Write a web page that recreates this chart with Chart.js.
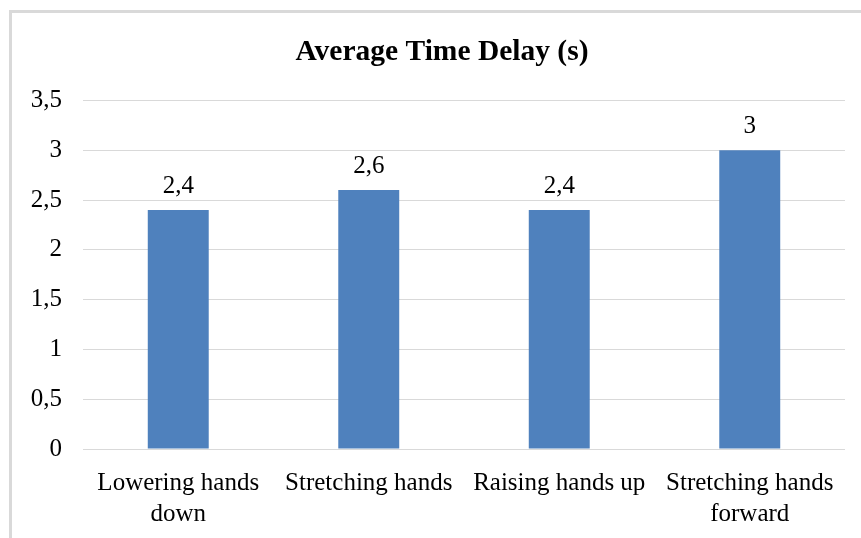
<!DOCTYPE html>
<html>
<head>
<meta charset="utf-8">
<script src="https://cdn.jsdelivr.net/npm/chart.js@4.4.1/dist/chart.umd.min.js"></script>
<style>
  html, body { margin: 0; padding: 0; background: #fff; }
  #wrap { position: relative; width: 861px; height: 538px; overflow: hidden; }
  #frame { position: absolute; left: 9px; top: 10px; width: 900px; height: 600px;
           border-top: 3px solid #d9d9d9; border-left: 3px solid #d9d9d9; box-sizing: border-box; }
  canvas { position: absolute; left: 0; top: 0; }
</style>
</head>
<body>
<div id="wrap">
  <div id="frame"></div>
  <canvas id="chart" width="861" height="538"></canvas>
</div>
<script>
const categories = [["Lowering hands", "down"], "Stretching hands", "Raising hands up", ["Stretching hands", "forward"]];
const delays = [2.4, 2.6, 2.4, 3];
const chartTitle = "Average Time Delay (s)";

const SERIF = "'Liberation Serif', 'Times New Roman', serif";
const commaNum = v => String(v).replace('.', ',');

// Writes each bar's value just above the bar
const valueLabels = {
  id: 'valueLabels',
  afterDatasetsDraw(chart) {
    const ctx = chart.ctx;
    const meta = chart.getDatasetMeta(0);
    ctx.save();
    ctx.font = "25px " + SERIF;
    ctx.fillStyle = "#000";
    ctx.textAlign = "center";
    ctx.textBaseline = "alphabetic";
    meta.data.forEach((bar, i) => {
      ctx.fillText(commaNum(chart.data.datasets[0].data[i]), bar.x, bar.y - 17);
    });
    ctx.restore();
  }
};

// Centres the title over the frame rather than over the whole canvas
const titleOffset = {
  id: 'titleOffset',
  afterLayout(chart) {
    const tb = chart.titleBlock;
    if (tb) {
      tb.left = 39;
      tb.width = tb.right - tb.left;
    }
  }
};

new Chart(document.getElementById('chart'), {
  type: 'bar',
  data: {
    labels: categories,
    datasets: [{
      data: delays,
      backgroundColor: '#4F81BD',
      borderWidth: 0,
      categoryPercentage: 1,
      barPercentage: 0.32
    }]
  },
  options: {
    responsive: false,
    animation: false,
    devicePixelRatio: 1,
    layout: { padding: { left: 9, right: 16, top: 0, bottom: 0 } },
    plugins: {
      legend: { display: false },
      tooltip: { enabled: false },
      title: {
        display: true,
        text: chartTitle,
        color: '#000',
        font: { family: SERIF, size: 29.5, weight: 'bold', lineHeight: 1.2 },
        padding: { top: 35, bottom: 30 }
      }
    },
    scales: {
      y: {
        min: 0,
        max: 3.5,
        afterFit(scale) { scale.width = 74; },
        ticks: {
          stepSize: 0.5,
          padding: 21,
          color: '#000',
          font: { family: SERIF, size: 25 },
          callback: v => commaNum(v)
        },
        grid: { color: '#d9d9d9', lineWidth: 1, drawTicks: false },
        border: { display: false }
      },
      x: {
        afterFit(scale) { scale.height = 89; },
        ticks: {
          padding: 19,
          color: '#000',
          maxRotation: 0,
          autoSkip: false,
          font: { family: SERIF, size: 25, lineHeight: 1.24 }
        },
        grid: { display: false, drawTicks: false },
        border: { display: false }
      }
    }
  },
  plugins: [valueLabels, titleOffset]
});
</script>
</body>
</html>
